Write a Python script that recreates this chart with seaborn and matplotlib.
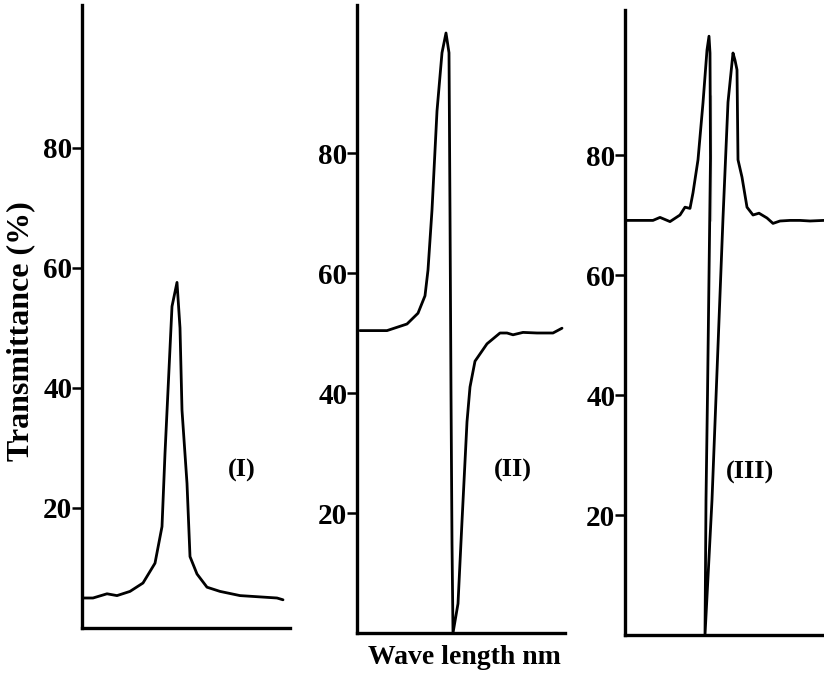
import numpy as np
import pandas as pd
import seaborn as sns
import matplotlib
matplotlib.use("Agg")
import matplotlib.pyplot as plt

# wavelength in arbitrary units (offset from each y axis), transmittance in %
wl_1 = [1, 11, 25, 35, 48, 61, 73, 80, 83, 90, 95, 98, 100, 105, 108, 115, 125, 138, 158, 195, 201]
tr_1 = [5.0, 5.0, 5.7, 5.4, 6.1, 7.5, 10.8, 16.9, 29.1, 53.6, 57.6, 50.0, 36.3, 24.1, 11.9, 9.0, 6.8, 6.1, 5.4, 5.0, 4.7]

wl_2 = [3, 30, 50, 61, 68, 71, 75, 80, 85, 89, 92, 93, 94, 95, 96, 101, 105, 110, 113, 118,
        130, 143, 150, 156, 166, 180, 196, 205]
tr_2 = [50.4, 50.4, 51.5, 53.3, 56.2, 60.5, 70.5, 87.0, 96.7, 100.0, 96.7, 70.0, 40.0, 15.0, 0.0, 4.9,
        18.6, 35.2, 41.0, 45.3, 48.2, 50.0, 50.0, 49.7, 50.1, 50.0, 50.0, 50.8]

wl_3 = [2, 28, 35, 45, 55, 60, 65, 68, 73, 78, 82, 84, 85, 85.5, 85.5, 82.5, 81, 80,
        87, 98, 103, 108, 110, 112, 113, 117, 122, 128, 134, 142, 148, 155, 165, 175, 185, 199]
tr_3 = [69.1, 69.1, 69.6, 68.9, 70.0, 71.3, 71.1, 73.7, 79.2, 88.7, 97.5, 99.8, 97.0, 90.0, 69.0, 40.0, 22.5, 0.0,
        22.5, 69.5, 88.8, 97.0, 95.8, 94.2, 79.2, 76.3, 71.3, 70.0, 70.3, 69.5, 68.6, 69.0, 69.1, 69.1, 69.0, 69.1]

y_ticks = [20, 40, 60, 80]
panel_labels = ["(I)", "(II)", "(III)"]

sns.set_style("ticks")
plt.rcParams["font.family"] = ["Liberation Serif", "DejaVu Serif"]
plt.rcParams["font.weight"] = "bold"
plt.rcParams["text.color"] = "black"
plt.rcParams["ytick.color"] = "black"
plt.rcParams["ytick.labelcolor"] = "black"

W, H = 824, 678
fig = plt.figure(figsize=(W / 100, H / 100), dpi=100)

# panel boxes in pixels: left, x-axis row, right, top of y axis
boxes = [(82, 628, 290, 5), (357, 633, 565, 5), (625, 635, 824, 10)]
data = [(wl_1, tr_1), (wl_2, tr_2), (wl_3, tr_3)]
label_pos = [(242, 470), (513, 470), (750, 472)]

for (x0, yb, x1, yt), (wl, tr), lab, (lx, ly) in zip(boxes, data, panel_labels, label_pos):
    ax = fig.add_axes([x0 / W, 1 - yb / H, (x1 - x0) / W, (yb - yt) / H])
    df = pd.DataFrame({"wl": wl, "tr": tr})
    sns.lineplot(data=df, x="wl", y="tr", sort=False, color="black", lw=2.0, ax=ax)
    ax.set_xlim(0, x1 - x0)
    ax.set_ylim(0, (yb - yt) / 6)
    ax.set_xticks([])
    ax.set_yticks(y_ticks)
    ax.set_yticklabels([str(t) for t in y_ticks], fontsize=21, fontweight="bold")
    ax.tick_params(axis="y", direction="out", length=7, width=1.8, pad=0, color="black")
    ax.set_xlabel("")
    ax.set_ylabel("")
    for s in ["top", "right"]:
        ax.spines[s].set_visible(False)
    for s in ["left", "bottom"]:
        ax.spines[s].set_linewidth(2.4)
        ax.spines[s].set_color("black")
    ax.patch.set_alpha(0)
    fig.text(lx / W, 1 - ly / H, lab, ha="center", va="center", fontsize=19, fontweight="bold")

fig.text(21 / W, 1 - 331 / H, "Transmittance (%)", rotation=90, ha="center", va="center",
         fontsize=23, fontweight="bold")
fig.text(464 / W, 1 - 657 / H, "Wave length nm", ha="center", va="center", fontsize=20, fontweight="bold")

fig.savefig("out.png", dpi=100)
